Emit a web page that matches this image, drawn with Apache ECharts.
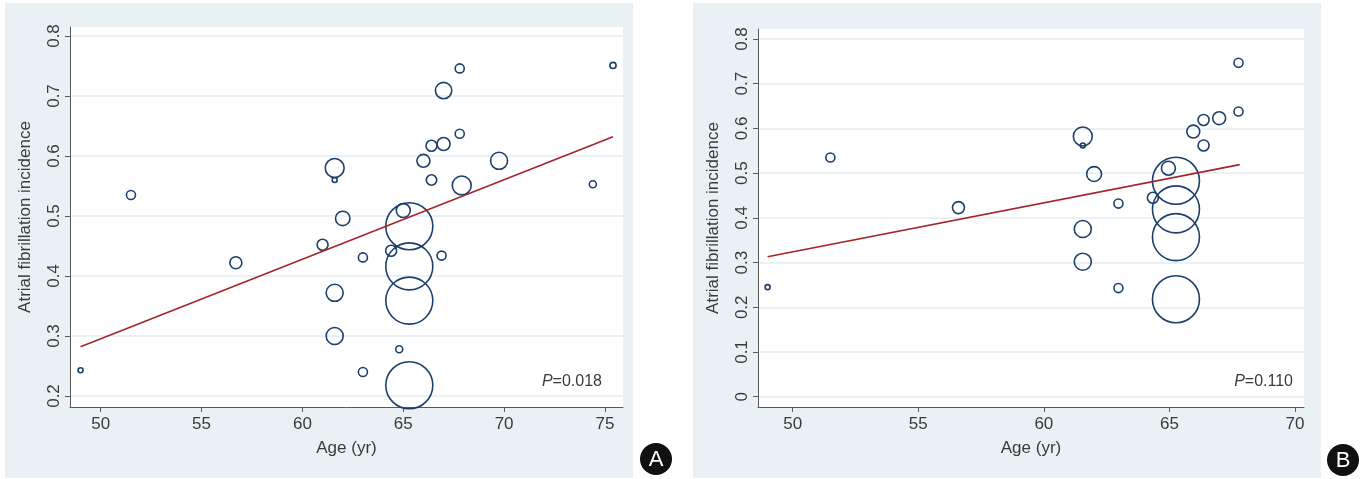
<!DOCTYPE html>
<html>
<head>
<meta charset="utf-8">
<script src="https://cdn.jsdelivr.net/npm/echarts@6/dist/echarts.min.js"></script>
<style>
  html, body { margin: 0; padding: 0; background: #ffffff; }
  #chart { width: 1367px; height: 479px; }
</style>
</head>
<body>
<div id="chart"></div>
<script>
// ---------- Data ----------
// Panel A: age (yr), atrial fibrillation incidence, study weight
const ageA = [49.0, 51.5, 56.7, 61.0, 61.6, 61.6, 61.6, 61.6, 62.0, 63.0, 63.0, 64.4, 64.8, 65.0,
              65.3, 65.3, 65.3, 65.3, 66.0, 66.4, 66.4, 66.9, 67.0, 67.0, 67.8, 67.8, 67.9, 69.75, 74.4, 75.4];
const afA  = [0.243, 0.535, 0.422, 0.452, 0.580, 0.560, 0.372, 0.300, 0.496, 0.431, 0.240, 0.442, 0.278, 0.509,
              0.483, 0.416, 0.359, 0.218, 0.592, 0.617, 0.560, 0.434, 0.709, 0.620, 0.746, 0.637, 0.551, 0.592, 0.553, 0.751];
const weightA = [1, 2.8, 4.7, 4, 11, 1, 9, 9, 6.6, 2.8, 2.8, 4, 1.8, 6.2,
                 64, 64, 64, 64, 5.4, 4, 3.6, 2.8, 8.4, 5.4, 2.8, 2.8, 11, 9, 1.8, 1.4];
const fitA = [[49.0, 0.282], [75.4, 0.632]];
const pTextA = 'P=0.018';

// Panel B
const ageB = [49.0, 51.5, 56.6, 61.55, 61.55, 61.55, 61.55, 62.0, 62.97, 62.97, 64.34, 64.96,
              65.26, 65.26, 65.26, 65.26, 65.95, 66.36, 66.36, 66.98, 67.75, 67.75];
const afB  = [0.245, 0.535, 0.423, 0.582, 0.562, 0.375, 0.302, 0.498, 0.432, 0.243, 0.445, 0.511,
              0.483, 0.419, 0.357, 0.218, 0.593, 0.619, 0.562, 0.623, 0.747, 0.638];
const weightB = [1, 2.8, 4.7, 11, 1, 9, 9, 7, 2.8, 2.8, 4, 6.2,
                 64, 64, 64, 64, 5.4, 4, 4, 5.4, 2.8, 2.8];
const fitB = [[49.0, 0.313], [67.8, 0.519]];
const pTextB = 'P=0.110';

// Tick values
const xTicksA = [50, 55, 60, 65, 70, 75];
const yTicksA = [0.2, 0.3, 0.4, 0.5, 0.6, 0.7, 0.8];
const xTicksB = [50, 55, 60, 65, 70];
const yTicksB = [0, 0.1, 0.2, 0.3, 0.4, 0.5, 0.6, 0.7, 0.8];

const xTitle = 'Age (yr)';
const yTitle = 'Atrial fibrillation incidence';
const panelLabels = ['A', 'B'];

// ---------- Styling ----------
const FONT = '"Liberation Sans", Arial, sans-serif';
const TXT = '#3a3a3a';
const AXIS = '#5a5a5a';
const GRIDC = '#e2edf2';
const PANEL_BG = '#e9f1f4';
const BUBBLE = '#1d3f6c';
const FIT = '#a3262a';

function zip3(a, b, c) { return a.map((v, i) => [v, b[i], c[i]]); }
function bubbleSize(v) { return 6 * Math.sqrt(v[2]) - 1; }

function xAxisCfg(gridIndex, min, max, ticks) {
  return {
    type: 'value', gridIndex, min, max,
    name: xTitle, nameLocation: 'middle', nameGap: 33,
    nameTextStyle: { fontFamily: FONT, fontSize: 17, color: TXT },
    axisLine: { show: true, onZero: false, lineStyle: { color: AXIS, width: 1 } },
    axisTick: { show: true, length: 5, lineStyle: { color: AXIS }, customValues: ticks },
    axisLabel: { show: true, customValues: ticks, margin: 9, fontFamily: FONT, fontSize: 17, color: TXT },
    splitLine: { show: false }
  };
}
function yAxisCfg(gridIndex, min, max, ticks) {
  return {
    type: 'value', gridIndex, min, max,
    name: yTitle, nameLocation: 'middle', nameGap: 36, nameRotate: 90,
    nameTextStyle: { fontFamily: FONT, fontSize: 17, color: TXT },
    axisLine: { show: true, onZero: false, lineStyle: { color: AXIS, width: 1 } },
    axisTick: { show: true, length: 5, lineStyle: { color: AXIS }, customValues: ticks },
    axisLabel: { show: true, customValues: ticks, rotate: 90, margin: 7, fontFamily: FONT, fontSize: 17, color: TXT,
                 formatter: v => String(v) },
    splitLine: { show: true, lineStyle: { color: GRIDC, width: 1.5 } }
  };
}
function bubbleSeries(idx, xs, ys, ws) {
  return {
    type: 'scatter', xAxisIndex: idx, yAxisIndex: idx,
    data: zip3(xs, ys, ws), symbol: 'circle', symbolSize: bubbleSize,
    itemStyle: { color: 'rgba(0,0,0,0)', borderColor: BUBBLE, borderWidth: 1.6, opacity: 1 },
    emphasis: { disabled: true }, clip: false, z: 2, silent: true
  };
}
function fitSeries(idx, pts) {
  return {
    type: 'line', xAxisIndex: idx, yAxisIndex: idx, data: pts,
    showSymbol: false, symbol: 'none', lineStyle: { color: FIT, width: 1.6 },
    z: 3, silent: true
  };
}

const chart = echarts.init(document.getElementById('chart'), null, { renderer: 'canvas' });
chart.setOption({
  animation: false,
  backgroundColor: '#ffffff',
  grid: [
    { left: 70, top: 27, width: 553, height: 380, show: true, backgroundColor: '#ffffff', borderWidth: 0, outerBoundsMode: 'none' },
    { left: 758, top: 29, width: 546, height: 378, show: true, backgroundColor: '#ffffff', borderWidth: 0, outerBoundsMode: 'none' }
  ],
  xAxis: [ xAxisCfg(0, 48.478, 75.895, xTicksA), xAxisCfg(1, 48.618, 70.358, xTicksB) ],
  yAxis: [ yAxisCfg(0, 0.18167, 0.815, yTicksA), yAxisCfg(1, -0.023, 0.8224, yTicksB) ],
  series: [
    bubbleSeries(0, ageA, afA, weightA), fitSeries(0, fitA),
    bubbleSeries(1, ageB, afB, weightB), fitSeries(1, fitB)
  ],
  graphic: [
    { type: 'rect', z: -10, silent: true, shape: { x: 5, y: 3, width: 628, height: 475 }, style: { fill: PANEL_BG } },
    { type: 'rect', z: -10, silent: true, shape: { x: 693, y: 3, width: 628, height: 475 }, style: { fill: PANEL_BG } },
    { type: 'text', z: 10, x: 602, y: 382, style: {
        text: '{i|P}' + pTextA.slice(1), align: 'right', verticalAlign: 'middle',
        font: '16px ' + FONT, fill: TXT,
        rich: { i: { fontStyle: 'italic', fontFamily: FONT, fontSize: 16, fill: TXT } } } },
    { type: 'text', z: 10, x: 1293, y: 382, style: {
        text: '{i|P}' + pTextB.slice(1), align: 'right', verticalAlign: 'middle',
        font: '16px ' + FONT, fill: TXT,
        rich: { i: { fontStyle: 'italic', fontFamily: FONT, fontSize: 16, fill: TXT } } } },
    { type: 'circle', z: 10, shape: { cx: 656, cy: 459, r: 16 }, style: { fill: '#111111' } },
    { type: 'text', z: 11, x: 656, y: 460, style: { text: panelLabels[0], align: 'center', verticalAlign: 'middle',
        font: '22px ' + FONT, fill: '#ffffff' } },
    { type: 'circle', z: 10, shape: { cx: 1343, cy: 460, r: 16 }, style: { fill: '#111111' } },
    { type: 'text', z: 11, x: 1343, y: 461, style: { text: panelLabels[1], align: 'center', verticalAlign: 'middle',
        font: '22px ' + FONT, fill: '#ffffff' } }
  ]
});
</script>
</body>
</html>
